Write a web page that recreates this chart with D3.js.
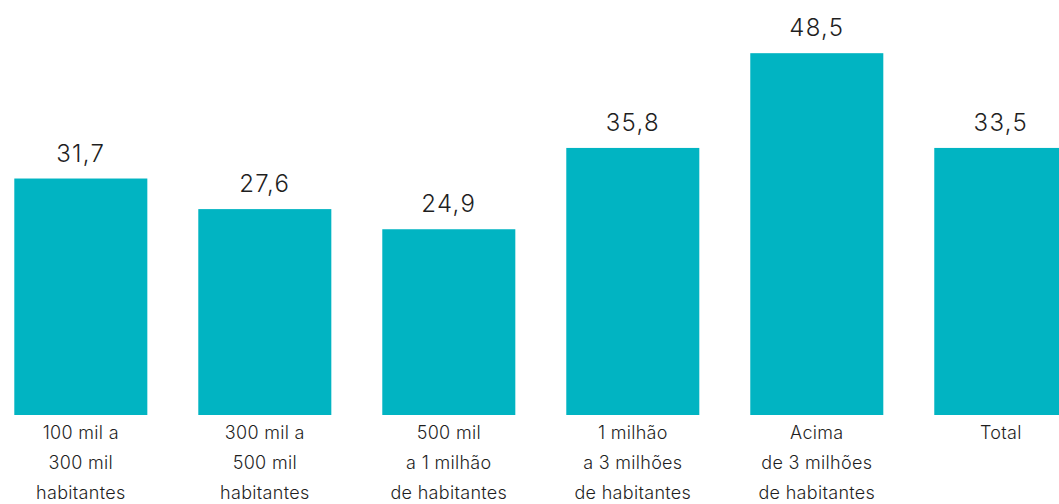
<!DOCTYPE html>
<html>
<head>
<meta charset="utf-8">
<script src="https://cdn.jsdelivr.net/npm/d3@7"></script>
<style>
  body { margin: 0; background: #fff; }
  svg { display: block; font-family: Inter, "Noto Sans", sans-serif; font-weight: 300; }
</style>
</head>
<body>
<div id="chart"></div>
<script>
// categories (multi-line labels)
const categories = [
  ["100 mil a", "300 mil", "habitantes"],
  ["300 mil a", "500 mil", "habitantes"],
  ["500 mil", "a 1 milhão", "de habitantes"],
  ["1 milhão", "a 3 milhões", "de habitantes"],
  ["Acima", "de 3 milhões", "de habitantes"],
  ["Total"]
];
// printed values
const valueLabels = ["31,7", "27,6", "24,9", "35,8", "48,5", "33,5"];
// bar heights as drawn in the reference (the Total bar is drawn level with 35,8)
const barValues = [31.7, 27.6, 24.9, 35.8, 48.5, 35.8];

const width = 1059, height = 504;
const baseline = 415;

const svg = d3.select("#chart")
  .append("svg")
  .attr("width", width)
  .attr("height", height);

const x = d3.scaleBand()
  .domain(d3.range(categories.length))
  .range([14.3, 1067.3])
  .paddingInner(0.277)
  .paddingOuter(0);

const y = d3.scaleLinear()
  .domain([0, 50])
  .range([baseline, baseline - 373]);

svg.append("g")
  .selectAll("rect")
  .data(barValues)
  .enter().append("rect")
  .attr("x", (d, i) => x(i))
  .attr("y", d => y(d))
  .attr("width", x.bandwidth())
  .attr("height", d => y(0) - y(d))
  .style("fill", "#01b4c2");

svg.append("g")
  .selectAll("text")
  .data(barValues)
  .enter().append("text")
  .attr("x", (d, i) => x(i) + x.bandwidth() / 2)
  .attr("y", d => y(d) - 17)
  .attr("text-anchor", "middle")
  .style("font-size", "24px")
  .style("letter-spacing", "1.3px")
  .style("fill", "#1f1f1f")
  .text((d, i) => valueLabels[i]);

const cat = svg.append("g")
  .selectAll("text")
  .data(categories)
  .enter().append("text")
  .attr("x", (d, i) => x(i) + x.bandwidth() / 2)
  .attr("y", 439)
  .attr("text-anchor", "middle")
  .style("font-size", "18px")
  .style("letter-spacing", "0.3px")
  .style("fill", "#1f1f1f");

cat.selectAll("tspan")
  .data(d => d)
  .enter().append("tspan")
  .attr("x", function() { return this.parentNode.getAttribute("x"); })
  .attr("dy", (d, j) => j === 0 ? 0 : 30)
  .text(d => d);
</script>
</body>
</html>
